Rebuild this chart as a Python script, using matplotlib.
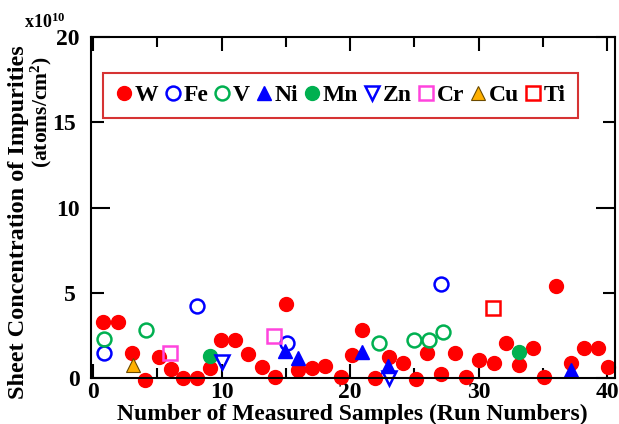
import matplotlib
matplotlib.use("Agg")
import matplotlib.pyplot as plt
from matplotlib.ticker import FixedFormatter

plt.rcParams['font.family'] = 'Liberation Serif'
plt.rcParams['font.weight'] = 'bold'
plt.rcParams['mathtext.fontset'] = 'custom'
plt.rcParams['mathtext.rm'] = 'Liberation Serif:bold'
plt.rcParams['mathtext.bf'] = 'Liberation Serif:bold'
plt.rcParams['mathtext.it'] = 'Liberation Serif:bold'

# values in units of 1e10 atoms/cm2
w_x = [0.8, 1.95, 3.05, 4.05, 5.1, 6.05, 6.95, 8.1, 9.05, 9.95,
       11.05, 12.05, 13.15, 14.15, 15.0, 15.95, 17.05, 18.05, 19.25, 20.15,
       20.9, 21.95, 23.05, 24.1, 25.1, 26.0, 27.05, 28.15, 29.0, 30.0,
       31.15, 32.1, 33.1, 34.25, 35.05, 36.0, 37.15, 38.15, 39.25, 40.05]
w_y = [3.3, 3.3, 1.48, -0.12, 1.25, 0.51, -0.02, -0.02, 0.57, 2.23,
       2.23, 1.41, 0.63, 0.08, 4.32, 0.47, 0.57, 0.7, 0.08, 1.35,
       2.82, -0.02, 1.21, 0.86, -0.06, 1.45, 0.22, 1.45, 0.08, 1.04,
       0.9, 2.07, 0.76, 1.78, 0.04, 5.41, 0.9, 1.74, 1.74, 0.63]
fe_x = [0.85, 8.1, 15.05, 27.1]
fe_y = [1.45, 4.22, 2.03, 5.49]
v_x = [0.85, 4.1, 22.2, 25.0, 26.15, 27.2]
v_y = [2.27, 2.82, 2.07, 2.23, 2.23, 2.72]
ni_x = [14.95, 15.9, 20.95, 22.95, 37.2]
ni_y = [1.6, 1.15, 1.54, 0.7, 0.47]
mn_x = [9.1, 33.15]
mn_y = [1.29, 1.54]
zn_x = [10.05, 23.0]
zn_y = [0.96, -0.02]
cr_x = [6.0, 14.1]
cr_y = [1.48, 2.46]
cu_x = [3.1]
cu_y = [0.76]
ti_x = [31.1]
ti_y = [4.12]

fig = plt.figure(figsize=(6.19, 4.24), dpi=100)
ax = fig.add_axes([91/619, 46/424, 524/619, 341/424])

kw = dict(linestyle='none', markersize=10, clip_on=False)
ax.plot(w_x, w_y, 'o', color='#ff0000', mec='#ff0000', label='W', **kw)
ax.plot(fe_x, fe_y, 'o', mfc='none', mec='#0000ff', mew=1.8, label='Fe', **kw)
ax.plot(v_x, v_y, 'o', mfc='none', mec='#00b050', mew=1.8, label='V', **kw)
ax.plot(ni_x, ni_y, '^', color='#0000ff', mec='#0000ff', label='Ni', **kw)
ax.plot(mn_x, mn_y, 'o', color='#00b050', mec='#00b050', label='Mn', **kw)
ax.plot(zn_x, zn_y, 'v', mfc='none', mec='#0000ff', mew=1.8, label='Zn', **kw)
ax.plot(cr_x, cr_y, 's', mfc='none', mec='#ff44dd', mew=1.8, label='Cr', **kw)
ax.plot(cu_x, cu_y, '^', color='#ffb000', mec='#6b4a00', mew=0.8, label='Cu', **kw)
ax.plot(ti_x, ti_y, 's', mfc='none', mec='#ff0000', mew=1.8, label='Ti', **kw)

ax.set_xlim(-0.17, 40.6)
ax.set_ylim(0, 20)
ax.set_xticks([0, 10, 20, 30, 40])
ax.set_xticks([5, 15, 25, 35], minor=True)
# 0/10/20 get long ticks, 5/15 short ones (still labelled)
ax.set_yticks([0, 10, 20])
ax.set_yticks([5, 15], minor=True)
ax.yaxis.set_minor_formatter(FixedFormatter(['5', '15']))

for s in ax.spines.values():
    s.set_linewidth(1.5)
ax.tick_params(axis='both', which='both', direction='in', width=1.5,
               top=True, right=True, labelsize=17)
ax.tick_params(axis='x', which='major', length=10, pad=3)
ax.tick_params(axis='x', which='minor', length=7)
ax.tick_params(axis='y', which='major', length=14, pad=8)
ax.tick_params(axis='y', which='minor', length=9, pad=11)

fig.text(352/619, 4/424, 'Number of Measured Samples (Run Numbers)',
         ha='center', va='baseline', fontsize=17, fontweight='bold')
fig.text(19/619, 1 - 222/424, 'Sheet Concentration of Impurities',
         ha='center', va='center', rotation=90, fontsize=17.5, fontweight='bold')
fig.text(41/619, 1 - 112/424, '(atoms/cm$^2$)',
         ha='center', va='center', rotation=90, fontsize=15.5, fontweight='bold')
fig.text(45/619, 1 - 22/424, 'x10$^{10}$', ha='center', va='center',
         fontsize=13, fontweight='bold')

leg = ax.legend(loc='lower left', bbox_to_anchor=(0.023, 0.762, 0.906, 0.15),
                mode='expand', ncol=9, fontsize=17, handletextpad=0.05,
                handlelength=0.8, columnspacing=0.3, borderpad=0.5,
                fancybox=False, borderaxespad=0)
leg.get_frame().set_edgecolor('#cc0000')
leg.get_frame().set_linewidth(1.5)

fig.savefig('out.png', dpi=100)
